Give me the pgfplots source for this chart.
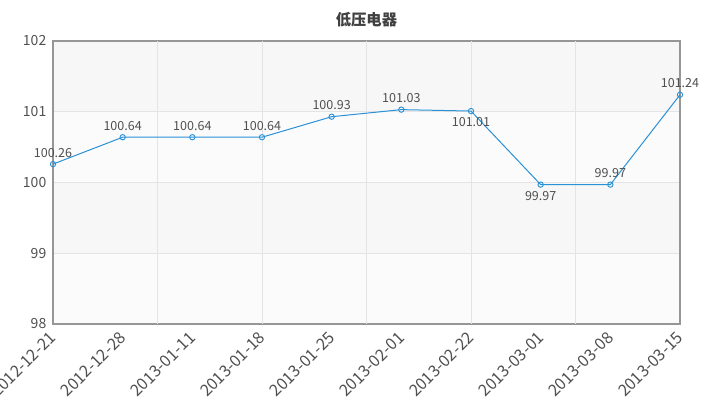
\documentclass[border=0pt]{standalone}
\usepackage{fontspec}
\setmainfont{Noto Sans CJK SC}
\usepackage{pgfplots}
\usepackage{pgfplotstable}
\pgfplotsset{compat=1.18}
\definecolor{linec}{RGB}{43,145,215}
\definecolor{txt}{RGB}{80,80,80}
\definecolor{band}{RGB}{247,247,247}
\definecolor{gridc}{RGB}{228,228,228}
\definecolor{axc}{RGB}{150,150,150}

% x index, value, label side (1 above, -1 below)
\pgfplotstableread{
x y pos
0 100.26 1
1 100.64 1
2 100.64 1
3 100.64 1
4 100.93 1
5 101.03 1
6 101.01 -1
7 99.97 -1
8 99.97 1
9 101.24 1
}\datatable

\begin{document}
\begin{tikzpicture}[x=0.75pt,y=0.75pt]
\useasboundingbox (-53,-88) rectangle (667,324);
% alternating bands behind the plot area (627 x 283 px)
\fill[white!50!band] (0,0) rectangle (627,70.75);
\fill[band] (0,70.75) rectangle (627,141.5);
\fill[white!50!band] (0,141.5) rectangle (627,212.25);
\fill[band] (0,212.25) rectangle (627,283);
\begin{axis}[
    at={(0,0)}, anchor=south west,
    scale only axis,
    width=470.25pt, height=212.25pt,
    xmin=0, xmax=9, ymin=98, ymax=102,
    xtick={0,...,9},
    xticklabels={2012-12-21,2012-12-28,2013-01-11,2013-01-18,2013-01-25,2013-02-01,2013-02-22,2013-03-01,2013-03-08,2013-03-15},
    xticklabel style={rotate=45, anchor=north east, inner sep=1pt, font=\fontsize{12.2}{13}\selectfont, text=txt, xshift=-4.5pt},
    ytick={98,99,100,101,102},
    yticklabel style={font=\fontsize{10.5}{11}\selectfont, text=txt, xshift=-1.5pt},
    /pgf/number format/assume math mode=true,
    major tick length=0pt,
    extra x ticks={1.5,3,4.5,6,7.5},
    extra x tick labels={},
    extra x tick style={xmajorgrids=true, major grid style={gridc, line width=0.6pt}},
    ymajorgrids=true,
    major grid style={gridc, line width=0.6pt},
    axis line style={axc, line width=0.8pt},
    clip=false,
]
\addplot[
    color=linec, line width=0.75pt,
    mark=o, mark size=2pt, mark options={fill=white, line width=0.7pt},
    visualization depends on={\thisrow{pos} \as \pos},
    nodes near coords,
    point meta=explicit,
    every node near coord/.append style={anchor=center, yshift=\pos*8.5pt, text=txt, font=\fontsize{9.4}{10}\selectfont},
] table[x=x, y=y, meta=y] {\datatable};
\node[font=\bfseries\fontsize{11.5}{12}\selectfont, text=txt!80!black] at (rel axis cs:0.5,1) [yshift=15.75pt] {低压电器};
\end{axis}
\end{tikzpicture}
\end{document}
